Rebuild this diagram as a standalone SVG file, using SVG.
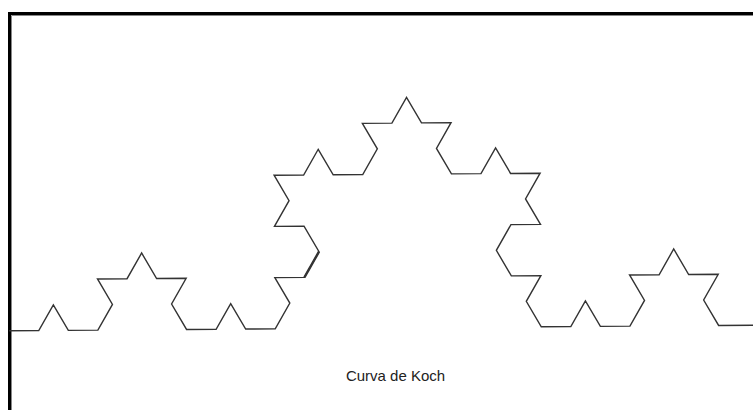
<svg xmlns="http://www.w3.org/2000/svg" width="753" height="410" viewBox="0 0 753 410">
<style>
.curve{fill:none;stroke:#333;stroke-width:1.4;stroke-linejoin:miter;vector-effect:non-scaling-stroke}
.label{font-family:"Liberation Sans",Arial,sans-serif;font-size:15px;fill:#222}
</style>
<rect x="0" y="0" width="753" height="410" fill="#fff"/>
<g id="frame">
<path d="M9.5,410 V13.5 H753" fill="none" stroke="#000" stroke-width="3"/>
<path d="M11.5,410 V15.5 H753" fill="none" stroke="#888" stroke-width="1"/>
</g>
<g id="koch" transform="translate(9.2,330.8) rotate(-0.43) scale(14.78,25.6)">
<path class="curve" d="M0 0
l2 0 1 -1 1 1 2 0
 1 -1 -1 -1 2 0 1 -1
 1 1 2 0 -1 1 1 1
 2 0 1 -1 1 1 2 0
 1 -1 -1 -1 2 0 1 -1
 -1 -1 -2 0 1 -1 -1 -1
 2 0 1 -1 1 1 2 0
 1 -1 -1 -1 2 0 1 -1
 1 1 2 0 -1 1 1 1
 2 0 1 -1 1 1 2 0
 -1 1 1 1 -2 0 -1 1
 1 1 2 0 -1 1 1 1
 2 0 1 -1 1 1 2 0
 1 -1 -1 -1 2 0 1 -1
 1 1 2 0 -1 1 1 1
 2.6 0 1 -1 1 1 2 0"/>
<path class="curve" style="stroke-width:2.4" d="M20 -2 l1 -1"/>
</g>
<g id="caption">
<text class="label" x="395.5" y="381" text-anchor="middle">Curva de Koch</text>
</g>
</svg>
